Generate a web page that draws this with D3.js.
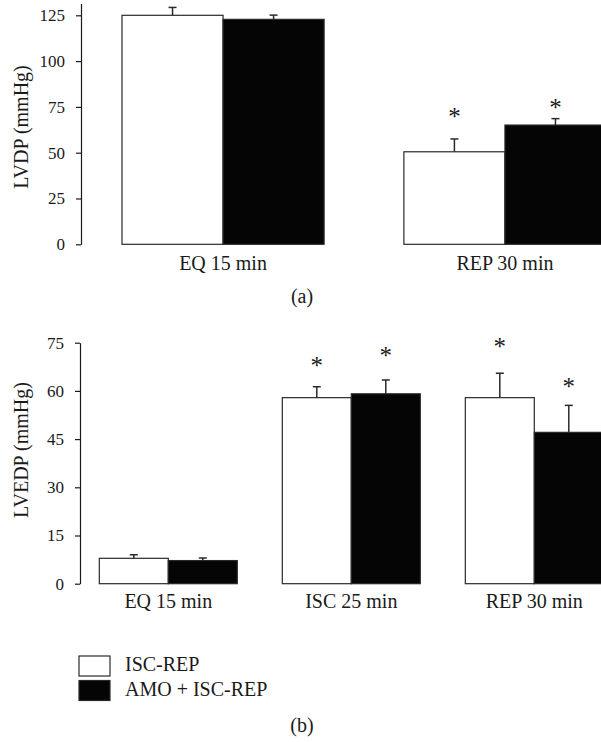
<!DOCTYPE html>
<html>
<head>
<meta charset="utf-8">
<script src="https://cdn.jsdelivr.net/npm/d3@7"></script>
<style>
  html, body { margin: 0; padding: 0; background: #fff; }
  svg { display: block; }
  text { font-family: "Liberation Serif", "Times New Roman", serif; fill: #1a1a1a; }
</style>
</head>
<body>
<svg id="chart" width="601" height="742"></svg>
<script>
// ---- Data ----
const seriesNames = ["ISC-REP", "AMO + ISC-REP"];

// Panel (a): LVDP
const categoriesA = ["EQ 15 min", "REP 30 min"];
const lvdpIscRep = [125.0, 50.5];
const lvdpAmo = [122.8, 65.1];
const lvdpIscRepSE = [4.3, 7.0];
const lvdpAmoSE = [2.3, 3.5];
const lvdpIscRepStar = [null, 71.7];   // level (mmHg) where * is drawn
const lvdpAmoStar = [null, 76.6];
const ticksA = [0, 25, 50, 75, 100, 125];

// Panel (b): LVEDP
const categoriesB = ["EQ 15 min", "ISC 25 min", "REP 30 min"];
const lvedpIscRep = [7.9, 57.9, 57.9];
const lvedpAmo = [7.2, 59.1, 47.1];
const lvedpIscRepSE = [1.1, 3.4, 7.6];
const lvedpAmoSE = [0.8, 4.3, 8.4];
const lvedpIscRepStar = [null, 68.9, 74.8];
const lvedpAmoStar = [null, 72.2, 62.4];
const ticksB = [0, 15, 30, 45, 60, 75];

const fills = ["#ffffff", "#050505"];

const svg = d3.select("#chart");

function panel(opts) {
  const g = svg.append("g");
  const x = d3.scaleBand().domain(opts.categories)
    .range([opts.x0, opts.x1]).paddingInner(opts.pad).paddingOuter(0);
  const xs = d3.scaleBand().domain(seriesNames).range([0, x.bandwidth()]).padding(0);
  const y = d3.scaleLinear().domain(opts.domain).range([opts.yBottom, opts.yTop]);

  const rows = [];
  opts.categories.forEach((c, i) => {
    opts.series.forEach((s, k) => {
      rows.push({ cat: c, ser: seriesNames[k], v: s.values[i], se: s.se[i], star: s.star[i], k });
    });
  });

  // bars
  g.selectAll("rect.bar").data(rows).join("rect")
    .attr("class", "bar")
    .attr("x", d => x(d.cat) + xs(d.ser))
    .attr("y", d => y(d.v))
    .attr("width", xs.bandwidth())
    .attr("height", d => y(0) - y(d.v))
    .attr("fill", d => fills[d.k])
    .attr("stroke", "#2a2a2a")
    .attr("stroke-width", 1.2);

  // error bars (upper only)
  const eb = g.selectAll("g.err").data(rows).join("g").attr("class", "err");
  eb.append("line")
    .attr("x1", d => x(d.cat) + xs(d.ser) + xs.bandwidth() / 2)
    .attr("x2", d => x(d.cat) + xs(d.ser) + xs.bandwidth() / 2)
    .attr("y1", d => y(d.v))
    .attr("y2", d => y(d.v + d.se))
    .attr("stroke", "#2a2a2a").attr("stroke-width", 1.5);
  eb.append("line")
    .attr("x1", d => x(d.cat) + xs(d.ser) + xs.bandwidth() / 2 - 4)
    .attr("x2", d => x(d.cat) + xs(d.ser) + xs.bandwidth() / 2 + 4)
    .attr("y1", d => y(d.v + d.se))
    .attr("y2", d => y(d.v + d.se))
    .attr("stroke", "#2a2a2a").attr("stroke-width", 1.5);

  // asterisks
  g.selectAll("text.star").data(rows.filter(d => d.star != null)).join("text")
    .attr("class", "star")
    .attr("x", d => x(d.cat) + xs(d.ser) + xs.bandwidth() / 2)
    .attr("y", d => y(d.star) + 12)
    .attr("text-anchor", "middle")
    .attr("font-size", 25)
    .text("*");

  // y axis
  const ax = g.append("g")
    .attr("transform", `translate(${opts.axisX},0)`)
    .call(d3.axisLeft(y).tickValues(opts.ticks).tickSize(5).tickSizeOuter(0).tickPadding(11)
      .tickFormat(d3.format("d")));
  ax.select(".domain").attr("stroke", "#1a1a1a").attr("stroke-width", 1.2);
  ax.selectAll(".tick line").attr("stroke", "#1a1a1a").attr("stroke-width", 1.2);
  ax.selectAll(".tick text").attr("font-size", 17)
    .attr("font-family", "Liberation Serif, serif").attr("fill", "#1a1a1a");

  // y title
  g.append("text")
    .attr("transform", `translate(28,${opts.titleY}) rotate(-90)`)
    .attr("text-anchor", "middle")
    .attr("font-size", 20)
    .text(opts.yTitle);

  // category labels
  g.selectAll("text.cat").data(opts.categories).join("text")
    .attr("class", "cat")
    .attr("x", d => x(d) + x.bandwidth() / 2)
    .attr("y", opts.catY)
    .attr("text-anchor", "middle")
    .attr("font-size", 20)
    .text(d => d);

  // panel letter
  g.append("text")
    .attr("x", 302).attr("y", opts.letterY)
    .attr("text-anchor", "middle")
    .attr("font-size", 20)
    .text(opts.letter);
}

panel({
  categories: categoriesA,
  series: [
    { values: lvdpIscRep, se: lvdpIscRepSE, star: lvdpIscRepStar },
    { values: lvdpAmo, se: lvdpAmoSE, star: lvdpAmoStar }
  ],
  x0: 122, x1: 606, pad: 0.283,
  domain: [0, 131.5], yBottom: 244.3, yTop: 3.4,
  ticks: ticksA, axisX: 81,
  yTitle: "LVDP (mmHg)", titleY: 127,
  catY: 270, letter: "(a)", letterY: 303
});

panel({
  categories: categoriesB,
  series: [
    { values: lvedpIscRep, se: lvedpIscRepSE, star: lvedpIscRepStar },
    { values: lvedpAmo, se: lvedpAmoSE, star: lvedpAmoStar }
  ],
  x0: 99.3, x1: 603.3, pad: 0.246,
  domain: [0, 75], yBottom: 583.7, yTop: 342.7,
  ticks: ticksB, axisX: 80,
  yTitle: "LVEDP (mmHg)", titleY: 450,
  catY: 608, letter: "(b)", letterY: 732
});

// legend
const legend = svg.append("g").attr("transform", "translate(79,656)");
const li = legend.selectAll("g").data(seriesNames).join("g")
  .attr("transform", (d, i) => `translate(0,${i * 24.5})`);
li.append("rect").attr("width", 31).attr("height", 20)
  .attr("fill", (d, i) => fills[i]).attr("stroke", "#2a2a2a").attr("stroke-width", 1.2);
li.append("text").attr("x", 46).attr("y", 15).attr("font-size", 20).text(d => d);
</script>
</body>
</html>
